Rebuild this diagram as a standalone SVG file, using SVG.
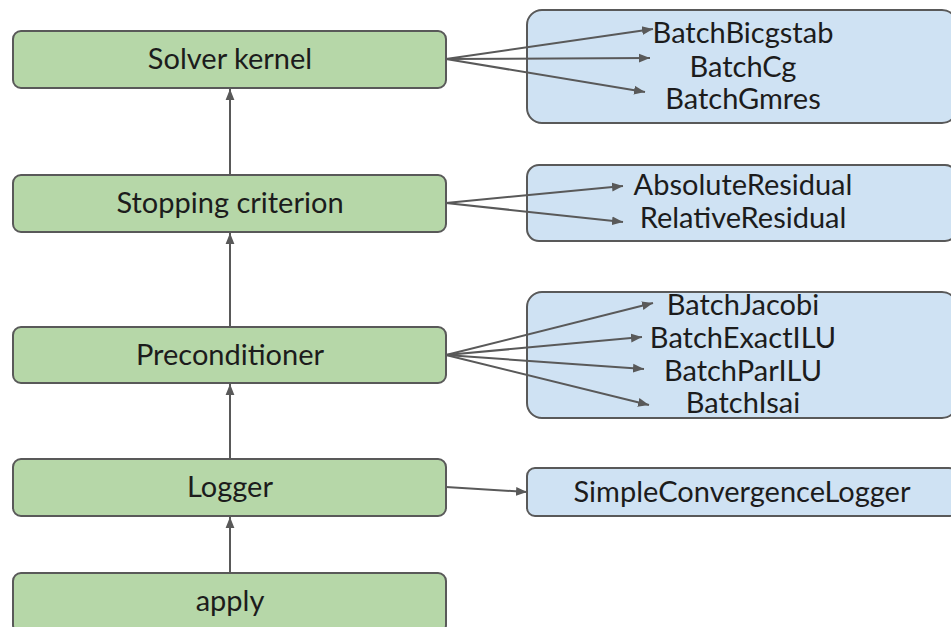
<svg xmlns="http://www.w3.org/2000/svg" width="951" height="627" viewBox="0 0 951 627">
<defs>
<marker id="ah" viewBox="0 0 10 10" refX="10" refY="5" markerWidth="11" markerHeight="11" markerUnits="userSpaceOnUse" orient="auto">
<path d="M0,1 L10,5 L0,9 Z" fill="#595959"/>
</marker>
<style>
.g{fill:#b6d7a8;stroke:#595959;stroke-width:2}
.b{fill:#cfe2f3;stroke:#595959;stroke-width:2}
text{font-family:Lato,"Liberation Sans",sans-serif;font-size:29px;fill:#1c1c1c;text-anchor:middle}
.c line{stroke:#595959;stroke-width:2;marker-end:url(#ah)}
</style>
</defs>
<rect width="951" height="627" fill="#ffffff"/>
<g id="solver"><rect class="g" x="13" y="31" width="433" height="57" rx="8"/><text x="230" y="69">Solver kernel</text></g>
<g id="stopping"><rect class="g" x="13" y="175" width="433" height="57" rx="8"/><text x="230" y="213">Stopping criterion</text></g>
<g id="precond"><rect class="g" x="13" y="327" width="433" height="56" rx="8"/><text x="230" y="365">Preconditioner</text></g>
<g id="logger"><rect class="g" x="13" y="459" width="433" height="57" rx="8"/><text x="230" y="497">Logger</text></g>
<g id="apply"><rect class="g" x="13" y="573" width="433" height="60" rx="8"/><text x="230" y="611">apply</text></g>
<g id="solvers"><rect class="b" x="527" y="10" width="430" height="113" rx="15"/><text x="743" y="43">BatchBicgstab</text><text x="743" y="77">BatchCg</text><text x="743" y="109">BatchGmres</text></g>
<g id="criteria"><rect class="b" x="527" y="165" width="430" height="76" rx="12"/><text x="743" y="195">AbsoluteResidual</text><text x="743" y="228">RelativeResidual</text></g>
<g id="preconds"><rect class="b" x="527" y="292" width="430" height="126" rx="15"/><text x="743" y="315">BatchJacobi</text><text x="743" y="348">BatchExactILU</text><text x="743" y="381">BatchParILU</text><text x="743" y="413">BatchIsai</text></g>
<g id="loggers"><rect class="b" x="527" y="468" width="430" height="48" rx="8"/><text x="742" y="502">SimpleConvergenceLogger</text></g>
<g class="c" id="connectors">
<line x1="230" y1="175" x2="230" y2="89"/>
<line x1="230" y1="327" x2="230" y2="233"/>
<line x1="230" y1="459" x2="230" y2="384"/>
<line x1="230" y1="573" x2="230" y2="517"/>
<line x1="446" y1="59" x2="653" y2="29"/>
<line x1="446" y1="59" x2="650" y2="58"/>
<line x1="446" y1="59" x2="645" y2="92"/>
<line x1="446" y1="203" x2="623" y2="186"/>
<line x1="446" y1="203" x2="623" y2="222"/>
<line x1="446" y1="355" x2="653" y2="303"/>
<line x1="446" y1="355" x2="642" y2="337"/>
<line x1="446" y1="355" x2="644" y2="369"/>
<line x1="446" y1="355" x2="649" y2="405"/>
<line x1="446" y1="487" x2="527" y2="492"/>
</g>
</svg>
